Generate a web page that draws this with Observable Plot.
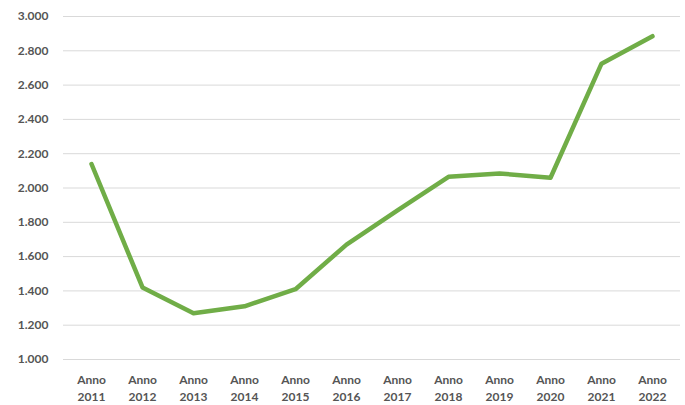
<!DOCTYPE html>
<html>
<head>
<meta charset="utf-8">
<script src="https://cdn.jsdelivr.net/npm/d3@7"></script>
<script src="https://cdn.jsdelivr.net/npm/@observablehq/plot@0.6"></script>
<style>
  html, body { margin: 0; padding: 0; background: #fff; }
  #chart { width: 685px; height: 405px; }
</style>
</head>
<body>
<div id="chart"></div>
<script>
// Yearly series
const years = ["Anno 2011", "Anno 2012", "Anno 2013", "Anno 2014", "Anno 2015", "Anno 2016",
               "Anno 2017", "Anno 2018", "Anno 2019", "Anno 2020", "Anno 2021", "Anno 2022"];
const values = [2140, 1420, 1270, 1310, 1410, 1670, 1870, 2065, 2085, 2060, 2725, 2885];
const yTicks = [1000, 1200, 1400, 1600, 1800, 2000, 2200, 2400, 2600, 2800, 3000];

const data = years.map((year, i) => ({year, value: values[i]}));

// Italian number format: "3.000"
const it = d3.formatLocale({decimal: ",", thousands: ".", grouping: [3], currency: ["", " €"]});
const fmt = it.format(",");

const chart = Plot.plot({
  width: 685,
  height: 405,
  marginTop: 16,
  marginBottom: 46,
  marginLeft: 63,
  marginRight: 5,
  style: {fontFamily: "Lato, 'Open Sans', sans-serif", fontSize: "12px", fontWeight: "bold", color: "#555555", background: "#fff"},
  x: {type: "point", domain: years, padding: 0.5, label: null},
  y: {domain: [1000, 3000], label: null},
  marks: [
    Plot.gridY(yTicks, {stroke: "#d9d9d9", strokeOpacity: 1, strokeWidth: 1}),
    Plot.axisY(yTicks, {tickSize: 0, tickPadding: 15, tickFormat: fmt, label: null}),
    Plot.axisX({tickSize: 0, tickPadding: 13, tickFormat: d => d.replace(" ", "\n"), lineHeight: 1.4, label: null}),
    Plot.line(data, {x: "year", y: "value", stroke: "#70ad47", strokeWidth: 4.5, strokeLinejoin: "round", strokeLinecap: "round"})
  ]
});
document.getElementById("chart").appendChild(chart);
</script>
</body>
</html>
